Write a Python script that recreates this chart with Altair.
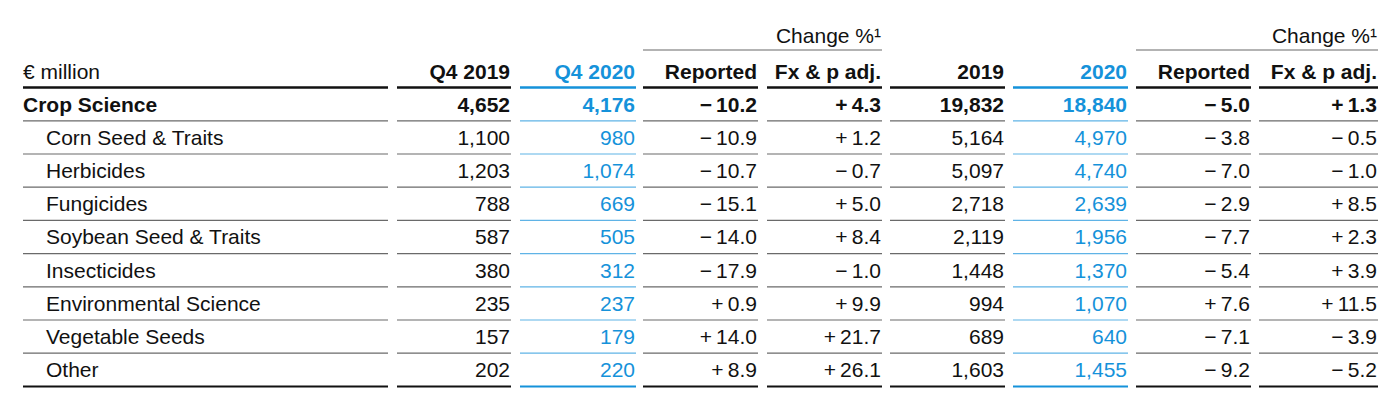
import altair as alt
import pandas as pd

# ---------------- data ----------------
row_labels = ["Crop Science", "Corn Seed & Traits", "Herbicides", "Fungicides",
              "Soybean Seed & Traits", "Insecticides", "Environmental Science",
              "Vegetable Seeds", "Other"]
q4_2019 = [4652, 1100, 1203, 788, 587, 380, 235, 157, 202]
q4_2020 = [4176, 980, 1074, 669, 505, 312, 237, 179, 220]
q4_reported = [-10.2, -10.9, -10.7, -15.1, -14.0, -17.9, 0.9, 14.0, 8.9]
q4_fx_adj = [4.3, 1.2, -0.7, 5.0, 8.4, -1.0, 9.9, 21.7, 26.1]
fy_2019 = [19832, 5164, 5097, 2718, 2119, 1448, 994, 689, 1603]
fy_2020 = [18840, 4970, 4740, 2639, 1956, 1370, 1070, 640, 1455]
fy_reported = [-5.0, -3.8, -7.0, -2.9, -7.7, -5.4, 7.6, -7.1, -9.2]
fy_fx_adj = [1.3, -0.5, -1.0, 8.5, 2.3, 3.9, 11.5, -3.9, -5.2]

unit_label = "€ million"
col_headers = ["Q4 2019", "Q4 2020", "Reported", "Fx & p adj.",
               "2019", "2020", "Reported", "Fx & p adj."]
group_header = "Change %¹"

# ---------------- layout / style ----------------
series = [q4_2019, q4_2020, q4_reported, q4_fx_adj, fy_2019, fy_2020, fy_reported, fy_fx_adj]
kinds = ["int", "int", "pct", "pct", "int", "int", "pct", "pct"]
blue_cols = {1, 5}
group_cols = [(2, 3), (6, 7)]

COL_L = [397, 520, 643, 767, 890, 1013, 1136, 1259]
COL_R = [511, 636, 758, 882, 1005, 1128, 1251, 1378]
LABEL_L, LABEL_R, INDENT = 23, 388, 46
HEADER_LINE = 87.5
ROW0_LINE, ROW_PITCH = 120.8, 33.2
BASE_OFF = 9.3
HEADER_BASE = 78.5
GROUP_BASE, GROUP_LINE = 42.5, 50

BLUE = "#1592da"
BLUE_LIGHT = "#5fb3e6"
BLACK = "#111111"
GRAY_LINE = "#6a6a6a"
GROUP_GRAY = "#9a9a9a"
FONT = "Liberation Sans"
FS = 21


def fmt(v, kind):
    if kind == "int":
        return f"{v:,}"
    sign = "\u2212" if v < 0 else "+"
    return f"{sign}\u2009{abs(v):.1f}"


texts = []
# label column
texts.append(dict(x=LABEL_L, y=HEADER_BASE, t=unit_label, c=BLACK, align="left", bold=False))
for k, lab in enumerate(row_labels):
    base = ROW0_LINE + ROW_PITCH * k - BASE_OFF
    texts.append(dict(x=LABEL_L if k == 0 else INDENT, y=base, t=lab, c=BLACK,
                      align="left", bold=(k == 0)))
# numeric columns
for i, (vals, kind) in enumerate(zip(series, kinds)):
    col = BLUE if i in blue_cols else BLACK
    xr = COL_R[i] - 1
    texts.append(dict(x=xr, y=HEADER_BASE, t=col_headers[i], c=col, align="right", bold=True))
    for k, v in enumerate(vals):
        base = ROW0_LINE + ROW_PITCH * k - BASE_OFF
        texts.append(dict(x=xr, y=base, t=fmt(v, kind), c=col, align="right", bold=(k == 0)))
for a, b in group_cols:
    texts.append(dict(x=COL_R[b] - 1, y=GROUP_BASE, t=group_header, c=BLACK, align="right", bold=False))

tdf = pd.DataFrame(texts)

rules = []
n = len(row_labels)
spans = [(LABEL_L, LABEL_R, False)] + [(COL_L[i], COL_R[i], i in blue_cols) for i in range(8)]
for l, r, isblue in spans:
    rules.append(dict(x=l, x2=r, y=HEADER_LINE, c=BLUE if isblue else BLACK, w=2.5))
    for k in range(n):
        yk = ROW0_LINE + ROW_PITCH * k
        if k == n - 1:
            rules.append(dict(x=l, x2=r, y=yk, c=BLUE if isblue else BLACK, w=2))
        else:
            rules.append(dict(x=l, x2=r, y=yk, c=BLUE_LIGHT if isblue else GRAY_LINE, w=1.2))
for a, b in group_cols:
    rules.append(dict(x=COL_L[a], x2=COL_R[b], y=GROUP_LINE, c=GROUP_GRAY, w=1.6))
rdf = pd.DataFrame(rules)

xs = alt.Scale(domain=[8, 1392], nice=False, zero=False)
ys = alt.Scale(domain=[8, 406], nice=False, zero=False, reverse=True)

rule_layer = alt.Chart(rdf).mark_rule(strokeCap="butt").encode(
    x=alt.X("x:Q", scale=xs, axis=None),
    x2="x2:Q",
    y=alt.Y("y:Q", scale=ys, axis=None),
    color=alt.Color("c:N", scale=None),
    size=alt.Size("w:Q", scale=None),
)


def text_layer(align, bold):
    d = tdf[(tdf["align"] == align) & (tdf["bold"] == bold)]
    return alt.Chart(d).mark_text(
        align=align, baseline="alphabetic", font=FONT, fontSize=FS,
        fontWeight="bold" if bold else "normal",
    ).encode(
        x=alt.X("x:Q", scale=xs, axis=None),
        y=alt.Y("y:Q", scale=ys, axis=None),
        text="t:N",
        color=alt.Color("c:N", scale=None),
    )


chart = alt.layer(
    rule_layer,
    text_layer("left", False),
    text_layer("left", True),
    text_layer("right", False),
    text_layer("right", True),
).properties(width=1384, height=398, padding=0, background="white").configure_view(stroke=None)

chart.save("out.html", embed_options={"renderer": "svg", "actions": False})
